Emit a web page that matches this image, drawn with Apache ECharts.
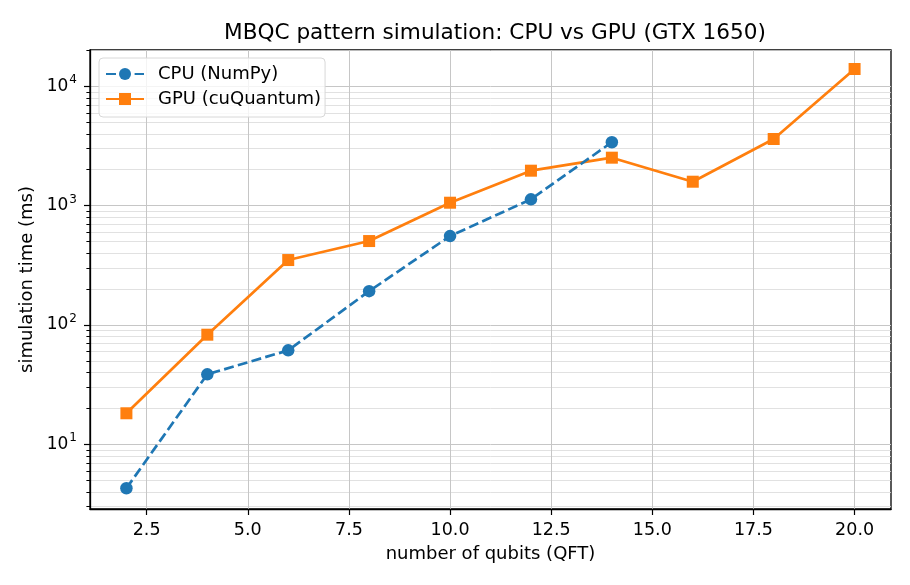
<!DOCTYPE html>
<html>
<head>
<meta charset="utf-8">
<script src="https://cdn.jsdelivr.net/npm/echarts@6/dist/echarts.min.js"></script>
<style>
html, body { margin: 0; padding: 0; background: #fff; }
#main { width: 910px; height: 585px; }
</style>
</head>
<body>
<div id="main"></div>
<script>
// values (ms, log scale)
var cpuQubits = [2, 4, 6, 8, 10, 12, 14];
var cpuTimes = [4.28, 38.6, 61.3, 192, 556, 1130, 3400];
var gpuQubits = [2, 4, 6, 8, 10, 12, 14, 16, 18, 20];
var gpuTimes = [18.2, 82.9, 350, 505, 1058, 1963, 2523, 1587, 3618, 13960];

var xTicks = [2.5, 5, 7.5, 10, 12.5, 15, 17.5, 20];
var yTicks = [10, 100, 1000, 10000];
var yMinorTicks = [3, 4, 5, 6, 7, 8, 9,
    20, 30, 40, 50, 60, 70, 80, 90,
    200, 300, 400, 500, 600, 700, 800, 900,
    2000, 3000, 4000, 5000, 6000, 7000, 8000, 9000, 20000];

function pairs(xs, ys) {
    var out = [];
    for (var i = 0; i < xs.length; i++) out.push([xs[i], ys[i]]);
    return out;
}

var font = 'DejaVu Sans';
var myChart = echarts.init(document.getElementById('main'));

var option = {
    backgroundColor: '#fff',
    textStyle: { fontFamily: font },
    title: {
        text: 'MBQC pattern simulation: CPU vs GPU (GTX 1650)',
        left: 490, top: 17, textAlign: 'center',
        textStyle: { fontFamily: font, fontSize: 21.6, fontWeight: 'normal', color: '#000' }
    },
    legend: {
        orient: 'vertical',
        left: 99, top: 58,
        padding: [7, 4, 9, 6],
        itemWidth: 38, itemHeight: 15, itemGap: 7,
        backgroundColor: 'rgba(255,255,255,0.8)',
        borderColor: '#d8d8d8', borderWidth: 1, borderRadius: 4,
        textStyle: { fontFamily: font, fontSize: 18, lineHeight: 18, color: '#000', padding: [0, 0, 0, 9] },
        data: ['CPU (NumPy)', 'GPU (cuQuantum)']
    },
    grid: {
        left: 90, right: 19, top: 50, bottom: 76,
        show: true, borderColor: '#000', borderWidth: 1.3
    },
    xAxis: {
        type: 'value', min: 1.1, max: 20.9,
        name: 'number of qubits (QFT)', nameLocation: 'middle', nameGap: 36,
        nameTextStyle: { fontFamily: font, fontSize: 18, color: '#000' },
        axisLine: { lineStyle: { color: '#000', width: 1.3 } },
        axisTick: { customValues: xTicks, length: 6, lineStyle: { color: '#000', width: 1.2 } },
        axisLabel: {
            customValues: xTicks, margin: 12,
            fontFamily: font, fontSize: 17.5, color: '#000',
            formatter: function (v) { return v.toFixed(1); }
        },
        splitLine: { show: true, lineStyle: { color: '#c6c6c6', width: 1 } }
    },
    yAxis: [{
        type: 'log', logBase: 10, min: 2.87, max: 20150,
        name: 'simulation time (ms)', nameLocation: 'middle', nameGap: 54,
        nameTextStyle: { fontFamily: font, fontSize: 18, color: '#000' },
        axisLine: { show: true, lineStyle: { color: '#000', width: 1.3 } },
        axisTick: { show: true, customValues: yTicks, length: 6, lineStyle: { color: '#000', width: 1.2 } },
        axisLabel: {
            customValues: yTicks, margin: 13, color: '#000',
            formatter: function (v) {
                return '{b|10}{s|' + Math.round(Math.log10(v)) + '}';
            },
            rich: {
                b: { fontFamily: font, fontSize: 17, color: '#000' },
                s: { fontFamily: font, fontSize: 12, color: '#000', padding: [0, 0, 12, 1] }
            }
        },
        splitLine: { show: true, lineStyle: { color: '#c6c6c6', width: 1 } }
    }, {
        type: 'log', logBase: 10, min: 2.87, max: 20150,
        position: 'left',
        axisLine: { show: false },
        axisTick: { show: true, customValues: yMinorTicks, length: 3.6, lineStyle: { color: '#000', width: 1 } },
        axisLabel: { show: false, customValues: yMinorTicks },
        splitLine: { show: true, lineStyle: { color: '#d9d9d9', width: 0.8 } }
    }],
    series: [
        {
            name: 'CPU (NumPy)',
            type: 'line',
            yAxisIndex: 0,
            data: pairs(cpuQubits, cpuTimes),
            symbol: 'circle', symbolSize: 12.5,
            color: '#1f77b4',
            lineStyle: { width: 2.7, type: [10, 4.3], color: '#1f77b4' },
            itemStyle: { color: '#1f77b4' },
            z: 3
        },
        {
            name: 'GPU (cuQuantum)',
            type: 'line',
            yAxisIndex: 0,
            data: pairs(gpuQubits, gpuTimes),
            symbol: 'rect', symbolSize: 12,
            color: '#ff7f0e',
            lineStyle: { width: 2.7, color: '#ff7f0e' },
            itemStyle: { color: '#ff7f0e' },
            z: 2
        }
    ]
};
myChart.setOption(option);
</script>
</body>
</html>
